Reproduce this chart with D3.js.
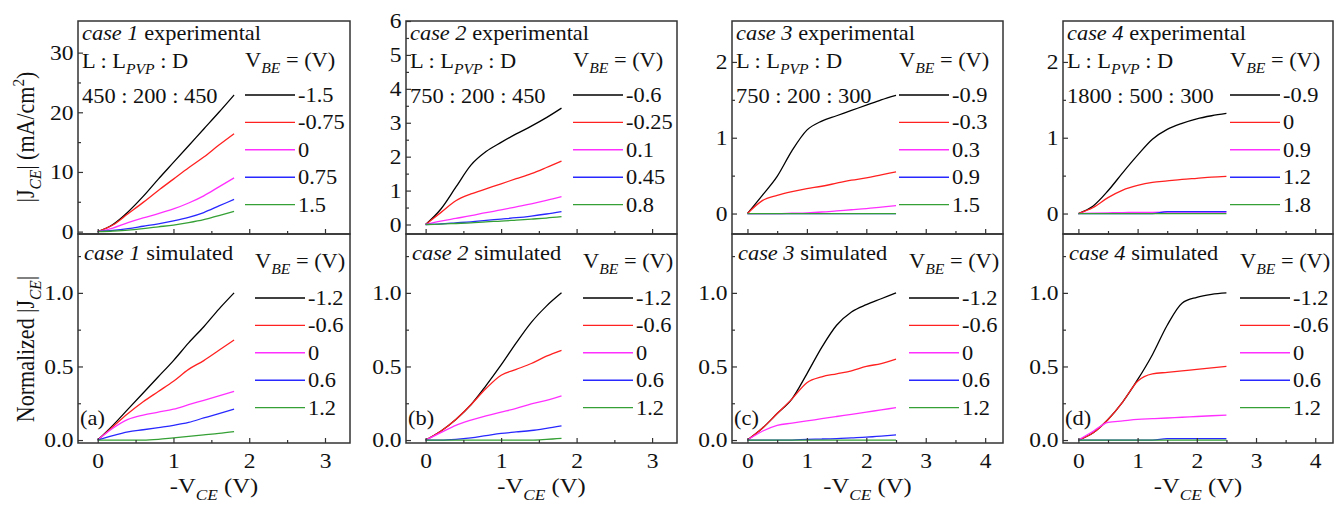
<!DOCTYPE html>
<html>
<head>
<meta charset="utf-8">
<script src="https://cdn.jsdelivr.net/npm/d3@7"></script>
<style>
body { margin: 0; background: #fff; }
</style>
</head>
<body>
<div id="container"></div>
<script>
let w = 1336;
let h = 506;

// ---- data ----
const seriesColors = ["#000000", "#ff2020", "#ff30ff", "#2828ff", "#35a035"];

const vShort = [0, 0.2, 0.4, 0.6, 0.8, 1.0, 1.2, 1.4, 1.6, 1.8];
const vLong = [0, 0.25, 0.5, 0.75, 1.0, 1.25, 1.5, 1.75, 2.0, 2.25, 2.5];

const case1Vbe = ["-1.5", "-0.75", "0", "0.75", "1.5"];
const case2Vbe = ["-0.6", "-0.25", "0.1", "0.45", "0.8"];
const case3Vbe = ["-0.9", "-0.3", "0.3", "0.9", "1.5"];
const case4Vbe = ["-0.9", "0", "0.9", "1.2", "1.8"];
const simVbe = ["-1.2", "-0.6", "0", "0.6", "1.2"];

const case1Exp = [
  [0, 1.2, 3.3, 5.9, 8.8, 11.6, 14.4, 17.2, 20.0, 22.9],
  [0, 1.1, 3.0, 4.9, 6.9, 8.8, 10.7, 12.5, 14.5, 16.4],
  [0, 0.6, 1.5, 2.3, 3.0, 3.8, 4.8, 6.0, 7.5, 9.0],
  [0, 0.2, 0.5, 0.9, 1.3, 1.8, 2.4, 3.2, 4.3, 5.4],
  [0, 0.1, 0.25, 0.5, 0.8, 1.1, 1.5, 2.0, 2.7, 3.4]
];
const case2Exp = [
  [0, 0.45, 1.1, 1.75, 2.15, 2.42, 2.67, 2.9, 3.15, 3.43],
  [0, 0.35, 0.7, 0.9, 1.05, 1.2, 1.35, 1.5, 1.68, 1.87],
  [0, 0.1, 0.18, 0.26, 0.35, 0.43, 0.52, 0.61, 0.71, 0.82],
  [0, 0.02, 0.05, 0.08, 0.12, 0.16, 0.2, 0.25, 0.31, 0.38],
  [0, 0.01, 0.03, 0.05, 0.08, 0.1, 0.13, 0.16, 0.19, 0.23]
];
const case3Exp = [
  [0, 0.24, 0.49, 0.83, 1.10, 1.22, 1.29, 1.36, 1.43, 1.50, 1.56],
  [0, 0.17, 0.24, 0.29, 0.33, 0.36, 0.40, 0.44, 0.47, 0.51, 0.55],
  [0, 0, 0, 0.005, 0.01, 0.02, 0.035, 0.05, 0.065, 0.085, 0.105],
  [0, 0, 0, 0, 0, 0, 0, 0, 0, 0, 0],
  [0, 0, 0, 0, 0, 0, 0, 0, 0, 0, 0]
];
const case4Exp = [
  [0, 0.1, 0.3, 0.54, 0.77, 0.98, 1.11, 1.19, 1.25, 1.29, 1.32],
  [0, 0.08, 0.21, 0.31, 0.37, 0.41, 0.43, 0.45, 0.465, 0.48, 0.49],
  [0, 0.005, 0.01, 0.012, 0.015, 0.015, 0.018, 0.02, 0.02, 0.02, 0.02],
  [0, 0, 0, 0, 0, 0, 0.025, 0.025, 0.025, 0.025, 0.025],
  [0, 0, 0, 0, 0, 0, 0, 0, 0, 0, 0]
];
const case1Sim = [
  [0, 0.1, 0.21, 0.32, 0.43, 0.54, 0.66, 0.77, 0.89, 1.0],
  [0, 0.09, 0.18, 0.26, 0.33, 0.40, 0.48, 0.54, 0.61, 0.68],
  [0, 0.08, 0.14, 0.17, 0.19, 0.21, 0.24, 0.27, 0.30, 0.33],
  [0, 0.03, 0.055, 0.07, 0.085, 0.10, 0.12, 0.15, 0.18, 0.21],
  [0, 0, 0, 0, 0.005, 0.015, 0.025, 0.035, 0.045, 0.057]
];
const case2Sim = [
  [0, 0.06, 0.14, 0.24, 0.37, 0.51, 0.66, 0.8, 0.91, 1.0],
  [0, 0.06, 0.14, 0.24, 0.35, 0.44, 0.48, 0.52, 0.57, 0.61],
  [0, 0.05, 0.1, 0.135, 0.165, 0.19, 0.215, 0.245, 0.27, 0.30],
  [0, 0, 0.005, 0.015, 0.03, 0.045, 0.055, 0.065, 0.08, 0.097],
  [0, 0, 0, 0, 0, 0, 0, 0, 0.005, 0.012]
];
const case3Sim = [
  [0, 0.08, 0.18, 0.28, 0.45, 0.63, 0.78, 0.87, 0.92, 0.96, 1.0],
  [0, 0.08, 0.18, 0.28, 0.39, 0.43, 0.45, 0.47, 0.50, 0.52, 0.55],
  [0, 0.06, 0.1, 0.115, 0.13, 0.145, 0.16, 0.175, 0.19, 0.205, 0.22],
  [0, 0, 0, 0, 0.005, 0.007, 0.01, 0.015, 0.02, 0.027, 0.035],
  [0, 0, 0, 0, 0, 0, 0, 0, 0, 0, 0]
];
const case4Sim = [
  [0, 0.05, 0.14, 0.26, 0.41, 0.58, 0.78, 0.93, 0.97, 0.99, 1.0],
  [0, 0.05, 0.14, 0.26, 0.40, 0.45, 0.46, 0.47, 0.48, 0.49, 0.50],
  [0, 0.06, 0.12, 0.13, 0.14, 0.145, 0.15, 0.155, 0.16, 0.165, 0.17],
  [0, 0, 0, 0, 0, 0, 0.01, 0.01, 0.01, 0.01, 0.01],
  [0, 0, 0, 0, 0, 0, 0, 0, 0, 0, 0]
];

const ratios = ["450 : 200 : 450", "750 : 200 : 450", "750 : 200 : 300", "1800 : 500 : 300"];
const letters = ["(a)", "(b)", "(c)", "(d)"];
const expTicks = [[0, 10, 20, 30], [0, 1, 2, 3, 4, 5, 6], [0, 1, 2], [0, 1, 2]];
const expMinor = [[5, 15, 25], [0.5, 1.5, 2.5, 3.5, 4.5, 5.5], [0.5, 1.5], [0.5, 1.5]];
const simTicks = [0, 0.5, 1.0];
const simMinor = [0.25, 0.75, 1.25];
const xTicksShort = [0, 1, 2, 3];
const xTicksLong = [0, 1, 2, 3, 4];

// ---- layout ----
const font = "Liberation Serif";
const sx = 1.12;   // the source figure is a bit wider than tall
const fs = 20;
let cols = [
  {l: 78, r: 350, xmax: 3.33, v: vShort, ticks: xTicksShort, exp: case1Exp, sim: case1Sim, vbe: case1Vbe, yExp: [-0.4, 35.3]},
  {l: 406, r: 677, xmax: 3.33, v: vShort, ticks: xTicksShort, exp: case2Exp, sim: case2Sim, vbe: case2Vbe, yExp: [-0.28, 6.0]},
  {l: 732, r: 1003, xmax: 4.3, v: vLong, ticks: xTicksLong, exp: case3Exp, sim: case3Sim, vbe: case3Vbe, yExp: [-0.27, 2.54]},
  {l: 1063, r: 1333, xmax: 4.3, v: vLong, ticks: xTicksLong, exp: case4Exp, sim: case4Sim, vbe: case4Vbe, yExp: [-0.27, 2.54]}
];
const topRow = {t: 21, b: 234};
const botRow = {t: 234, b: 443};

let svg = d3.select("#container").append("svg")
  .attr("width", w)
  .attr("height", h)
  .attr("font-family", font);

// text with sub/italic parts, stretched horizontally like the source
function rich(g, x, y, parts, size, rot) {
  let t = g.append("text")
    .attr("transform", "translate(" + x + "," + y + ") scale(" + sx + ",1)" + (rot ? " rotate(-90)" : ""))
    .attr("font-size", size)
    .attr("font-family", font)
    .attr("fill", "#111");
  let shift = 0;
  parts.forEach(p => {
    let s = t.append("tspan").text(p.t);
    let want = p.sub ? size * 0.3 : (p.sup ? -size * 0.4 : 0);
    if (want !== shift) s.attr("dy", want - shift);
    shift = want;
    if (p.sub || p.sup) s.attr("font-size", size * 0.7);
    if (p.i) s.attr("font-style", "italic");
  });
  return t;
}

function panel(c, row, yDom, yTicks, yMinor, fmt, data, showX) {
  let x = d3.scaleLinear().domain([-0.26, c.xmax]).range([c.l, c.r]);
  let y = d3.scaleLinear().domain(yDom).range([row.b, row.t]);
  let g = svg.append("g");

  let line = d3.line()
    .x(d => x(d[0]))
    .y(d => y(d[1]))
    .curve(d3.curveMonotoneX);

  data.forEach((s, i) => {
    g.append("path")
      .datum(c.v.map((v, k) => [v, s[k]]))
      .attr("d", line)
      .attr("fill", "none")
      .attr("stroke", seriesColors[i])
      .attr("stroke-width", 1.3);
  });

  // minor ticks
  g.append("g").attr("transform", "translate(" + c.l + ",0)")
    .call(d3.axisLeft(y).tickValues(yMinor).tickSizeInner(-3).tickSizeOuter(0).tickFormat(""));
  let xm = d3.range(0.5, c.xmax, 1);
  g.append("g").attr("transform", "translate(0," + row.b + ")")
    .call(d3.axisBottom(x).tickValues(xm).tickSizeInner(-3).tickSizeOuter(0).tickFormat(""));

  // major ticks + labels
  let ya = g.append("g").attr("transform", "translate(" + c.l + ",0)")
    .call(d3.axisLeft(y).tickValues(yTicks).tickSizeInner(-5).tickSizeOuter(0).tickPadding(4).tickFormat(fmt));
  let xa = g.append("g").attr("transform", "translate(0," + row.b + ")")
    .call(d3.axisBottom(x).tickValues(c.ticks).tickSizeInner(-5).tickSizeOuter(0).tickPadding(10)
      .tickFormat(showX ? d3.format("d") : ""));
  g.selectAll(".domain").remove();
  g.selectAll(".tick line").attr("stroke", "#333").attr("stroke-width", 1.2);
  g.selectAll("g").attr("font-family", font);
  [ya, xa].forEach(a => {
    a.selectAll("text")
      .attr("font-size", 21)
      .attr("font-family", font)
      .attr("fill", "#111")
      .attr("transform", "scale(" + sx + ",1)");
  });

  g.append("rect")
    .attr("x", c.l).attr("y", row.t)
    .attr("width", c.r - c.l).attr("height", row.b - row.t)
    .attr("fill", "none")
    .attr("stroke", "#333")
    .attr("stroke-width", 1.5);
  return g;
}

function legend(g, x0, yHead, yRow0, labels) {
  rich(g, x0, yHead, [{t: "V"}, {t: "BE", sub: true, i: true}, {t: " = (V)"}], fs);
  labels.forEach((lab, i) => {
    let yy = yRow0 + i * 27.4;
    g.append("line")
      .attr("x1", x0).attr("x2", x0 + 50)
      .attr("y1", yy).attr("y2", yy)
      .attr("stroke", seriesColors[i])
      .attr("stroke-width", 1.4);
    rich(g, x0 + 53, yy + 7, [{t: lab}], fs);
  });
}

cols.forEach((c, i) => {
  let n = String(i + 1);
  let gt = panel(c, topRow, c.yExp, expTicks[i], expMinor[i], d3.format("d"), c.exp, false);
  rich(gt, c.l + 4, 40, [{t: "case " + n, i: true}, {t: " experimental"}], fs);
  rich(gt, c.l + 4, 68, [{t: "L : L"}, {t: "PVP", sub: true, i: true}, {t: " : D"}], fs);
  rich(gt, c.l + 4, 103, [{t: ratios[i]}], fs);
  legend(gt, c.l + 167, 67, 95, c.vbe);

  let gb = panel(c, botRow, [-0.02, 1.4], simTicks, simMinor, d3.format(".1f"), c.sim, true);
  rich(gb, c.l + 6, 260, [{t: "case " + n, i: true}, {t: " simulated"}], fs);
  legend(gb, c.l + 177, 268, 298, simVbe);
  rich(gb, c.l + 2, 425, [{t: letters[i]}], fs);

  let xt = rich(svg, (c.l + c.r) / 2, 493, [{t: "-V"}, {t: "CE", sub: true, i: true}, {t: " (V)"}], 22);
  xt.attr("text-anchor", "middle");
});

// y axis titles
rich(svg, 34, 137, [{t: "|J"}, {t: "CE", sub: true, i: true}, {t: "| (mA/cm"}, {t: "2", sup: true}, {t: ")"}], 22, true)
  .attr("text-anchor", "middle");
rich(svg, 34, 349, [{t: "Normalized |J"}, {t: "CE", sub: true, i: true}, {t: "|"}], 22, true)
  .attr("text-anchor", "middle");
</script>
</body>
</html>
